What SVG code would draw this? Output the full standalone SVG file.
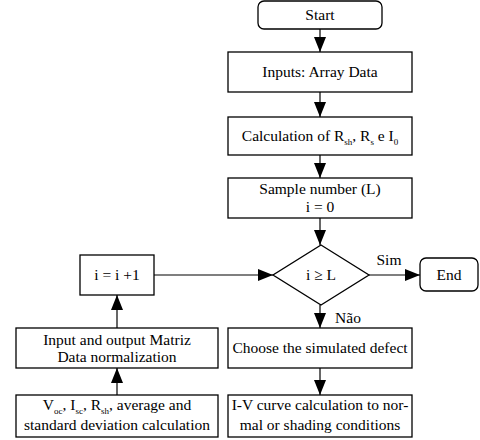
<svg xmlns="http://www.w3.org/2000/svg" width="480" height="440" viewBox="0 0 480 440">
<style>
.b{fill:#fff;stroke:#000;stroke-width:1.3}
.c{fill:none;stroke:#000;stroke-width:1.2}
text{font-family:"Liberation Serif","Times New Roman",serif;font-size:15.5px;fill:#000;text-anchor:middle}
.s{font-size:9px}
</style>
<defs>
<marker id="a" markerWidth="10" markerHeight="10" viewBox="0 0 10 10" refX="10" refY="5" orient="auto" markerUnits="userSpaceOnUse" style="overflow:visible">
<path d="M-5,-1 L10,5 L-5,11 Z" fill="#000"/>
</marker>
</defs>
<rect width="480" height="440" fill="#fff"/>
<g id="connectors">
<line class="c" x1="320" y1="29" x2="320" y2="52" marker-end="url(#a)"/>
<line class="c" x1="320" y1="92" x2="320" y2="117" marker-end="url(#a)"/>
<line class="c" x1="320" y1="155" x2="320" y2="178" marker-end="url(#a)"/>
<line class="c" x1="320" y1="218" x2="320" y2="245" marker-end="url(#a)"/>
<line class="c" x1="369" y1="275" x2="420" y2="275" marker-end="url(#a)"/>
<line class="c" x1="320" y1="305" x2="320" y2="328" marker-end="url(#a)"/>
<line class="c" x1="320" y1="368" x2="320" y2="395" marker-end="url(#a)"/>
<line class="c" x1="117" y1="395" x2="117" y2="368" marker-end="url(#a)"/>
<line class="c" x1="117" y1="328" x2="117" y2="295" marker-end="url(#a)"/>
<line class="c" x1="154" y1="275" x2="273" y2="275" marker-end="url(#a)"/>
<text x="389" y="265">Sim</text>
<text x="348" y="323">Não</text>
</g>
<g id="start"><rect class="b" x="258" y="1" width="124" height="28" rx="6"/><text x="320" y="20">Start</text></g>
<g id="inputs"><rect class="b" x="228" y="52" width="184" height="40"/><text x="320" y="77">Inputs: Array Data</text></g>
<g id="calc"><rect class="b" x="228" y="117" width="184" height="38"/><text x="320" y="141">Calculation of R<tspan class="s" dy="4">sh</tspan><tspan dy="-4">, R</tspan><tspan class="s" dy="4">s</tspan><tspan dy="-4"> e I</tspan><tspan class="s" dy="4">0</tspan></text></g>
<g id="sample"><rect class="b" x="228" y="178" width="184" height="40"/><text x="320" y="194">Sample number (L)</text><text x="320" y="212">i = 0</text></g>
<g id="decision"><polygon class="b" points="321,245 369,275 321,305 273,275"/><text x="321" y="280">i ≥ L</text></g>
<g id="end"><rect class="b" x="420" y="258" width="58" height="33" rx="6"/><text x="449" y="280">End</text></g>
<g id="choose"><rect class="b" x="228" y="328" width="184" height="40"/><text x="320" y="353">Choose the simulated defect</text></g>
<g id="iv"><rect class="b" x="228" y="395" width="184" height="42"/><text x="320" y="410">I-V curve calculation to nor-</text><text x="320" y="430">mal or shading conditions</text></g>
<g id="incr"><rect class="b" x="80" y="255" width="74" height="40"/><text x="117" y="280">i = i +1</text></g>
<g id="matriz"><rect class="b" x="16" y="328" width="202" height="40"/><text x="117" y="345">Input and output Matriz</text><text x="117" y="362">Data normalization</text></g>
<g id="stats"><rect class="b" x="16" y="395" width="202" height="42"/><text x="117" y="410">V<tspan class="s" dy="4">oc</tspan><tspan dy="-4">, I</tspan><tspan class="s" dy="4">sc</tspan><tspan dy="-4">, R</tspan><tspan class="s" dy="4">sh</tspan><tspan dy="-4">, average and</tspan></text><text x="117" y="430">standard deviation calculation</text></g>
</svg>
